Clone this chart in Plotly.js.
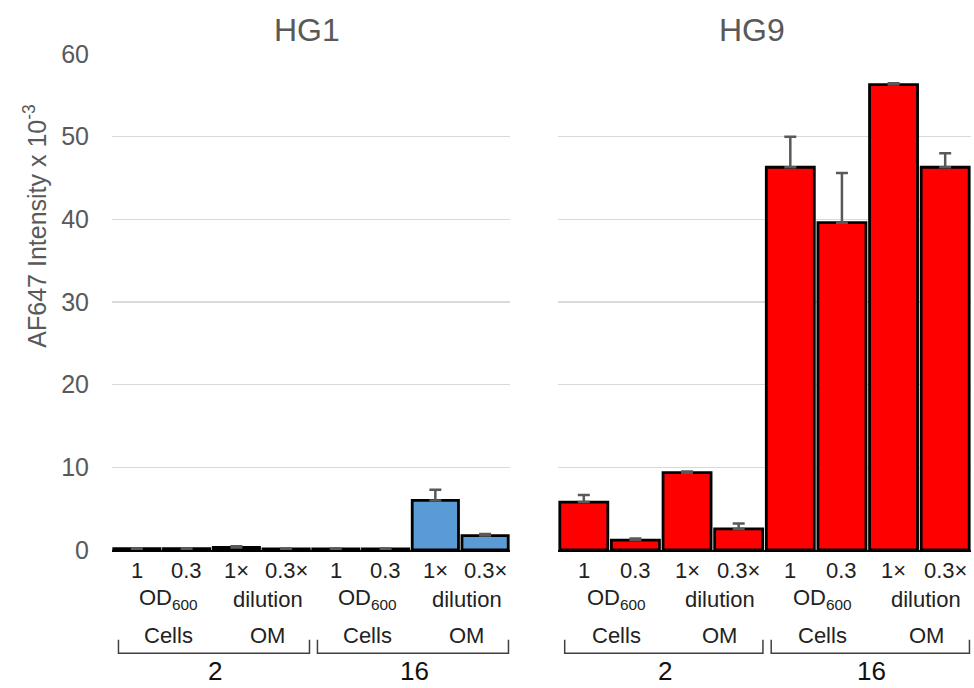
<!DOCTYPE html>
<html>
<head>
<meta charset="utf-8">
<script src="https://cdn.plot.ly/plotly-3.0.1.min.js"></script>
<style>html,body{margin:0;padding:0;background:#fff;}#chart{width:974px;height:688px;}</style>
</head>
<body>
<div id="chart"></div>
<script>
// ---- data ----
const panelTitles = ["HG1", "HG9"];
const concLabels = ["1", "0.3", "1×", "0.3×", "1", "0.3", "1×", "0.3×"];
const unitLabels = ["OD<sub>600</sub>", "dilution", "OD<sub>600</sub>", "dilution"];
const sampleLabels = ["Cells", "OM", "Cells", "OM"];
const groupLabels = ["2", "16"];
const hg1Values = [0.15, 0.15, 0.3, 0.12, 0.12, 0.12, 6.0, 1.75];
const hg1Errors = [0.05, 0.05, 0.15, 0.05, 0.05, 0.05, 1.3, 0.2];
const hg9Values = [5.8, 1.2, 9.35, 2.55, 46.3, 39.6, 56.3, 46.3];
const hg9Errors = [0.85, 0.2, 0.15, 0.65, 3.7, 6.0, 0.15, 1.7];
const yTitle = "AF647 Intensity x 10<sup>-3</sup>";

const idx = concLabels.map((_, i) => i);
const FONT = "Liberation Sans, Arial, sans-serif";

function barTrace(vals, errs, color, xa, ya) {
  return {
    type: "bar", x: idx, y: vals, xaxis: xa, yaxis: ya,
    width: 0.93,
    marker: {color: color, line: {color: "#000", width: 2.8}},
    error_y: {type: "data", array: errs, arrayminus: errs.map(() => 0), symmetric: false,
              color: "#595959", thickness: 2.5, width: 6},
    hoverinfo: "skip", showlegend: false
  };
}

const data = [
  barTrace(hg1Values, hg1Errors, "#5b9bd5", "x", "y"),
  barTrace(hg9Values, hg9Errors, "#ff0000", "x2", "y2")
];

const annotations = [];
const shapes = [];
["x", "x2"].forEach((xr, p) => {
  concLabels.forEach((t, i) => annotations.push({
    xref: xr, yref: "paper", x: i, y: 0, yshift: -20, text: t, showarrow: false,
    font: {family: FONT, size: 22, color: "#222"}, yanchor: "middle"
  }));
  unitLabels.forEach((t, k) => annotations.push({
    xref: xr, yref: "paper", x: 2 * k + 0.5 + 0.13, y: 0, yshift: -49, text: t, showarrow: false,
    font: {family: FONT, size: 22, color: "#222"}, yanchor: "middle"
  }));
  sampleLabels.forEach((t, k) => annotations.push({
    xref: xr, yref: "paper", x: 2 * k + 0.5 + 0.13, y: 0, yshift: -85, text: t, showarrow: false,
    font: {family: FONT, size: 22, color: "#222"}, yanchor: "middle"
  }));
  groupLabels.forEach((t, g) => {
    annotations.push({
      xref: xr, yref: "paper", x: 4 * g + 1.5 + 0.08, y: 0, yshift: -121, text: t, showarrow: false,
      font: {family: FONT, size: 26, color: "#111"}, yanchor: "middle"
    });
    const x0 = 4 * g - 0.37, x1 = 4 * g + 3.47;
    shapes.push({
      type: "path", xref: xr, yref: "paper",
      path: `M ${x0} -0.181 L ${x0} -0.208 L ${x1} -0.208 L ${x1} -0.181`,
      line: {color: "#404040", width: 1.5}
    });
  });
  annotations.push({
    xref: xr + " domain", yref: "paper", x: p === 0 ? 0.49 : 0.47, y: 1, yshift: 24,
    text: panelTitles[p], showarrow: false, yanchor: "middle",
    font: {family: FONT, size: 32, color: "#595959"}
  });
});
annotations.push({
  xref: "paper", yref: "paper", x: -0.0896, y: 0.652, text: yTitle, textangle: -90,
  showarrow: false, font: {family: FONT, size: 25, color: "#595959"}, xanchor: "center", yanchor: "middle"
});

const xCommon = {
  range: [-0.5, 7.5], showticklabels: false, ticks: "", showgrid: false, zeroline: false,
  showline: true, linecolor: "#000", linewidth: 2, fixedrange: true
};
const yCommon = {
  range: [0, 60], tickvals: [0, 10, 20, 30, 40, 50, 60], showgrid: true, gridcolor: "#d9d9d9",
  gridwidth: 1.5, zeroline: false, showline: false, ticks: "", fixedrange: true
};

const layout = {
  width: 974, height: 688,
  margin: {l: 112, r: 3, t: 54, b: 138, pad: 0},
  paper_bgcolor: "#fff", plot_bgcolor: "#fff",
  font: {family: FONT},
  xaxis: Object.assign({}, xCommon, {domain: [0, 0.4633], anchor: "y"}),
  xaxis2: Object.assign({}, xCommon, {domain: [0.5192, 1], anchor: "y2"}),
  yaxis: Object.assign({}, yCommon, {anchor: "x", ticklabelstandoff: 22,
    tickfont: {family: FONT, size: 25, color: "#595959"}}),
  yaxis2: Object.assign({}, yCommon, {anchor: "x2", matches: "y", showticklabels: false}),
  bargap: 0.07,
  annotations: annotations,
  shapes: shapes,
  showlegend: false
};

Plotly.newPlot("chart", data, layout, {staticPlot: true, displayModeBar: false});
</script>
</body>
</html>
